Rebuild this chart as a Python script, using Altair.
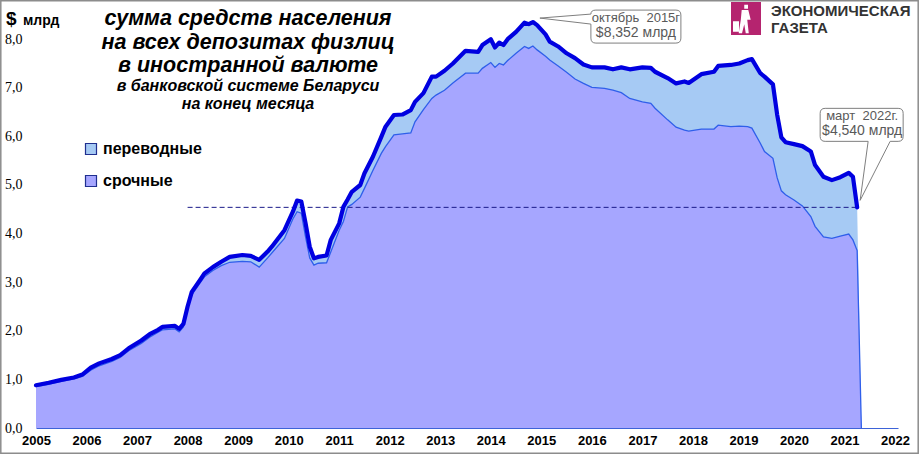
import altair as alt
import pandas as pd

# ---------------- data ----------------
months = [
    "2005-12", "2006-03", "2006-06", "2006-09", "2006-11", "2007-01", "2007-03", "2007-06",
    "2007-08", "2007-10", "2008-01", "2008-03", "2008-05", "2008-06", "2008-09", "2008-10",
    "2008-11", "2008-12", "2009-01", "2009-03", "2009-04", "2009-06", "2009-08", "2009-10",
    "2010-01", "2010-03", "2010-05", "2010-07", "2010-08", "2010-11", "2011-01", "2011-02",
    "2011-03", "2011-04", "2011-05", "2011-06", "2011-07", "2011-09", "2011-10", "2011-12",
    "2012-01", "2012-02", "2012-03", "2012-05", "2012-06", "2012-08", "2012-10", "2012-11",
    "2013-01", "2013-03", "2013-05", "2013-06", "2013-08", "2013-10", "2013-11", "2014-01",
    "2014-03", "2014-06", "2014-09", "2014-10", "2014-12", "2015-01", "2015-02", "2015-03",
    "2015-04", "2015-06", "2015-08", "2015-09", "2015-10", "2015-11", "2016-01", "2016-02",
    "2016-04", "2016-06", "2016-08", "2016-10", "2016-12", "2017-03", "2017-05", "2017-07",
    "2017-09", "2017-12", "2018-02", "2018-03", "2018-06", "2018-08", "2018-10", "2018-11",
    "2019-02", "2019-05", "2019-06", "2019-09", "2019-11", "2020-01", "2020-02", "2020-04",
    "2020-05", "2020-07", "2020-08", "2020-09", "2020-10", "2020-12", "2021-02", "2021-04",
    "2021-05", "2021-07", "2021-09", "2021-11", "2022-01", "2022-02", "2022-03", "2022-04",
]
# all deposits in foreign currency (переводные + срочные), $ bn
total = [
    0.88, 0.93, 0.99, 1.04, 1.10, 1.24, 1.33, 1.42,
    1.50, 1.64, 1.80, 1.93, 2.02, 2.08, 2.10, 2.04,
    2.14, 2.50, 2.80, 3.05, 3.18, 3.31, 3.42, 3.52,
    3.56, 3.54, 3.46, 3.63, 3.73, 4.07, 4.45, 4.68,
    4.66, 4.22, 3.73, 3.49, 3.52, 3.55, 3.87, 4.21,
    4.55, 4.70, 4.86, 5.00, 5.24, 5.58, 5.99, 6.20,
    6.44, 6.45, 6.54, 6.71, 6.89, 7.23, 7.23, 7.35,
    7.50, 7.76, 7.74, 7.88, 8.00, 7.83, 7.93, 7.88,
    8.00, 8.15, 8.34, 8.31, 8.352, 8.29, 8.10, 7.95,
    7.85, 7.71, 7.61, 7.48, 7.42, 7.42, 7.38, 7.42,
    7.38, 7.42, 7.41, 7.33, 7.20, 7.09, 7.13, 7.10,
    7.28, 7.33, 7.45, 7.47, 7.50, 7.57, 7.59, 7.30,
    7.23, 7.07, 6.45, 5.98, 5.88, 5.84, 5.80, 5.69,
    5.41, 5.17, 5.10, 5.16, 5.25, 5.17, 4.54, 0.0,
]
# term deposits (срочные), $ bn
term = [
    0.85, 0.90, 0.96, 1.01, 1.06, 1.19, 1.28, 1.37,
    1.45, 1.59, 1.74, 1.87, 1.97, 2.02, 2.04, 1.98,
    2.08, 2.44, 2.74, 2.99, 3.11, 3.24, 3.34, 3.41,
    3.43, 3.42, 3.31, 3.50, 3.60, 3.90, 4.30, 4.45,
    4.42, 3.94, 3.50, 3.35, 3.39, 3.40, 3.62, 4.07,
    4.25, 4.55, 4.60, 4.75, 4.93, 5.30, 5.65, 5.79,
    6.03, 6.05, 6.07, 6.30, 6.55, 6.78, 6.85, 6.95,
    7.10, 7.30, 7.30, 7.40, 7.52, 7.42, 7.50, 7.47,
    7.56, 7.71, 7.85, 7.81, 7.86, 7.78, 7.65, 7.57,
    7.45, 7.32, 7.18, 7.09, 7.01, 6.99, 6.95, 6.90,
    6.78, 6.71, 6.68, 6.58, 6.34, 6.19, 6.13, 6.11,
    6.15, 6.15, 6.23, 6.20, 6.21, 6.20, 6.17, 5.86,
    5.69, 5.55, 5.15, 4.88, 4.80, 4.69, 4.57, 4.35,
    4.15, 3.93, 3.90, 3.95, 3.99, 3.87, 3.65, 0.0,
]
series_names = ["переводные", "срочные"]
series_colors = ["#A6CAF4", "#A6A6FF"]
year_labels = list(range(2005, 2023))
y_ticks = [0, 1, 2, 3, 4, 5, 6, 7, 8]
ref_start = "2008-12"
peak_text = ["октябрь\u00a0 2015г", "$8,352 млрд"]
last_text = ["март\u00a0 2022г.", "$4,540 млрд"]
title_lines = ["сумма средств населения", "на всех депозитах физлиц", "в иностранной валюте"]
subtitle_lines = ["в банковской системе Беларуси", "на конец месяца"]

# ---------------- tables ----------------
def month_pos(m):
    y, mo = m.split("-")
    return int(y) + (int(mo) - 1) / 12.0

df = pd.DataFrame({"month": months, "total": total, "term": term})
df["t"] = df["month"].map(month_pos)

long_df = pd.concat([
    pd.DataFrame({"t": df["t"], "value": df["total"], "series": series_names[0]}),
    pd.DataFrame({"t": df["t"], "value": df["term"], "series": series_names[1]}),
], ignore_index=True)

valid = df[df["total"] > 0]
peak = valid.loc[valid["total"].idxmax()]
last = valid.iloc[-1]
ref_df = pd.DataFrame({"t": [month_pos(ref_start)], "t2": [last["t"]], "v": [last["total"]]})
peak_df = pd.DataFrame({"t": [peak["t"]], "v": [peak["total"]]})
last_df = pd.DataFrame({"t": [last["t"]], "v": [last["total"]]})

X0 = 2005 + 11 / 12.0
X1 = X0 + 204.7 / 12.0
xscale = alt.Scale(domain=[X0, X1], nice=False, zero=False)
yscale = alt.Scale(domain=[0, 8.724], nice=False)

W, H = 862, 424

xaxis = alt.Axis(
    values=[y + 11 / 12.0 for y in year_labels],
    labelExpr="floor(datum.value)",
    title=None, grid=False, ticks=False,
    domainColor="#3D63D8", domainWidth=1.2,
    labelFont="Liberation Sans Narrow, Arial Narrow, Liberation Sans",
    labelFontWeight="bold", labelFontSize=13, labelColor="#000000",
    labelPadding=6, labelFlush=False, labelOverlap=False,
)
yaxis = alt.Axis(
    values=y_ticks,
    labelExpr="replace(format(datum.value, '.1f'), '.', ',')",
    title=None, grid=False, ticks=False, domain=False,
    labelFont="Liberation Serif, Times New Roman", labelFontSize=14,
    labelColor="#000000", labelPadding=14,
)

color = alt.Color(
    "series:N",
    scale=alt.Scale(domain=series_names, range=series_colors),
    title=None,
    legend=alt.Legend(
        orient="none", legendX=47, legendY=137, padding=0,
        symbolType="square", symbolSize=121,
        symbolStrokeColor="#1F2F8F", symbolStrokeWidth=1.2, symbolOpacity=1,
        labelFont="Liberation Sans, Arial", labelFontSize=16, labelFontWeight="bold",
        labelColor="#000000", labelOffset=4, rowPadding=16,
    ),
)

one = pd.DataFrame({"k": [0]})

frame = alt.Chart(one).mark_rect(fillOpacity=0, stroke="#8C8C8C", strokeWidth=1.5).encode(
    x=alt.value(-35.2), x2=alt.value(882.2), y=alt.value(-3.2), y2=alt.value(449.2)
)

area_tr = alt.Chart(long_df).transform_filter(
    alt.datum.series == series_names[0]
).mark_area(opacity=1, interpolate="linear").encode(
    x=alt.X("t:Q", scale=xscale, axis=xaxis),
    y=alt.Y("value:Q", scale=yscale, axis=yaxis, stack=None),
    color=color,
)
area_term = alt.Chart(long_df).transform_filter(
    alt.datum.series == series_names[1]
).mark_area(opacity=1, interpolate="linear").encode(
    x=alt.X("t:Q", scale=xscale),
    y=alt.Y("value:Q", scale=yscale, stack=None),
    color=color,
)
term_line = alt.Chart(df).mark_line(color="#2F5FEA", strokeWidth=1.3).encode(
    x=alt.X("t:Q", scale=xscale),
    y=alt.Y("term:Q", scale=yscale),
)
ref_rule = alt.Chart(ref_df).mark_rule(color="#1A1A8A", strokeWidth=1, strokeDash=[5, 3]).encode(
    x=alt.X("t:Q", scale=xscale), x2="t2:Q", y=alt.Y("v:Q", scale=yscale)
)
total_line = alt.Chart(valid).mark_line(
    color="#0000E0", strokeWidth=4.2, strokeJoin="round", strokeCap="round"
).encode(
    x=alt.X("t:Q", scale=xscale),
    y=alt.Y("total:Q", scale=yscale),
)

peak_shape = ("M 0.07 -0.04 L 0.58 -0.08 Q 0.58 -0.12 0.63 -0.12 L 1.43 -0.12 "
              "Q 1.48 -0.12 1.48 -0.07 L 1.48 0.16 Q 1.48 0.21 1.43 0.21 L 0.63 0.21 "
              "Q 0.58 0.21 0.58 0.16 L 0.58 0.02 Z")
last_shape = ("M 0.03 -0.07 L 0.33 -0.66 L 0.41 -0.66 Q 0.46 -0.66 0.46 -0.71 L 0.46 -0.94 "
              "Q 0.46 -0.99 0.41 -0.99 L -0.32 -0.99 Q -0.37 -0.99 -0.37 -0.94 L -0.37 -0.71 "
              "Q -0.37 -0.66 -0.32 -0.66 L 0.11 -0.66 Z")

def callout(data, shape, lines, dx, dy1, dy2):
    base = alt.Chart(data).encode(x=alt.X("t:Q", scale=xscale), y=alt.Y("v:Q", scale=yscale))
    box = base.mark_point(shape=shape, size=40000, filled=True, fill="#FFFFFF",
                          stroke="#7F7F7F", strokeWidth=1, opacity=1)
    txt_font = "Liberation Sans Narrow, Arial Narrow, Liberation Sans"
    t1 = base.mark_text(text=lines[0], dx=dx, dy=dy1, font=txt_font, fontSize=13,
                        color="#595959", align="center", baseline="middle")
    t2 = base.mark_text(text=lines[1], dx=dx, dy=dy2, font=txt_font, fontSize=14,
                        color="#595959", align="center", baseline="middle")
    return [box, t1, t2]

peak_layers = callout(peak_df, peak_shape, peak_text, 103, -4, 11)
last_layers = callout(last_df, last_shape, last_text, 5, -91, -76)

def label(text, x, y, size, weight="bold", style="normal", align="center",
          color="#000000", font="Liberation Sans, Arial"):
    return alt.Chart(one).mark_text(
        text=text, font=font, fontSize=size, fontWeight=weight, fontStyle=style,
        align=align, baseline="alphabetic", color=color,
    ).encode(x=alt.value(x), y=alt.value(y))

texts = [
    label("$", -30, 21, 19, align="left"),
    label("млрд", -13, 21, 14, align="left"),
    label(title_lines[0], 212, 21, 21.5, style="italic"),
    label(title_lines[1], 212, 45, 21.5, style="italic"),
    label(title_lines[2], 212, 68, 21.5, style="italic"),
    label(subtitle_lines[0], 212, 87, 16, style="italic"),
    label(subtitle_lines[1], 212, 105, 16, style="italic"),
    label("ЭКОНОМИЧЕСКАЯ", 735, 12, 15, align="left", color="#333333"),
    label("ГАЗЕТА", 735, 29, 15, align="left", color="#333333"),
]

logo_box = alt.Chart(one).mark_rect(fill="#B5246F").encode(
    x=alt.value(695), x2=alt.value(725), y=alt.value(-2), y2=alt.value(31)
)
figure_path = ("M -0.05 -0.95 L 0.2 -0.95 L 0.2 -0.68 L -0.05 -0.68 Z "
               "M -0.22 -0.6 L 0.22 -0.6 L 0.38 0.05 L 0.15 0.05 L 0.25 0.95 L 0.05 0.95 "
               "L -0.05 0.35 L -0.2 0.95 L -0.42 0.95 L -0.28 0.05 Z "
               "M -0.8 0.15 L -0.4 0.15 L -0.4 0.85 L -0.8 0.85 Z")
logo_fig = alt.Chart(one).mark_point(shape=figure_path, size=900, filled=True,
                                     fill="#FFFFFF", opacity=1).encode(
    x=alt.value(709), y=alt.value(15)
)

chart = alt.layer(
    frame, area_tr, area_term, term_line, ref_rule, total_line,
    *peak_layers, *last_layers, *texts, logo_box, logo_fig,
).properties(
    width=W, height=H,
    padding={"left": 36, "top": 4, "right": 21, "bottom": 27},
    autosize=alt.AutoSizeParams(type="none"),
    background="#FFFFFF",
).configure_view(strokeWidth=0)

chart.save("out.html", embed_options={"renderer": "svg", "actions": False})
